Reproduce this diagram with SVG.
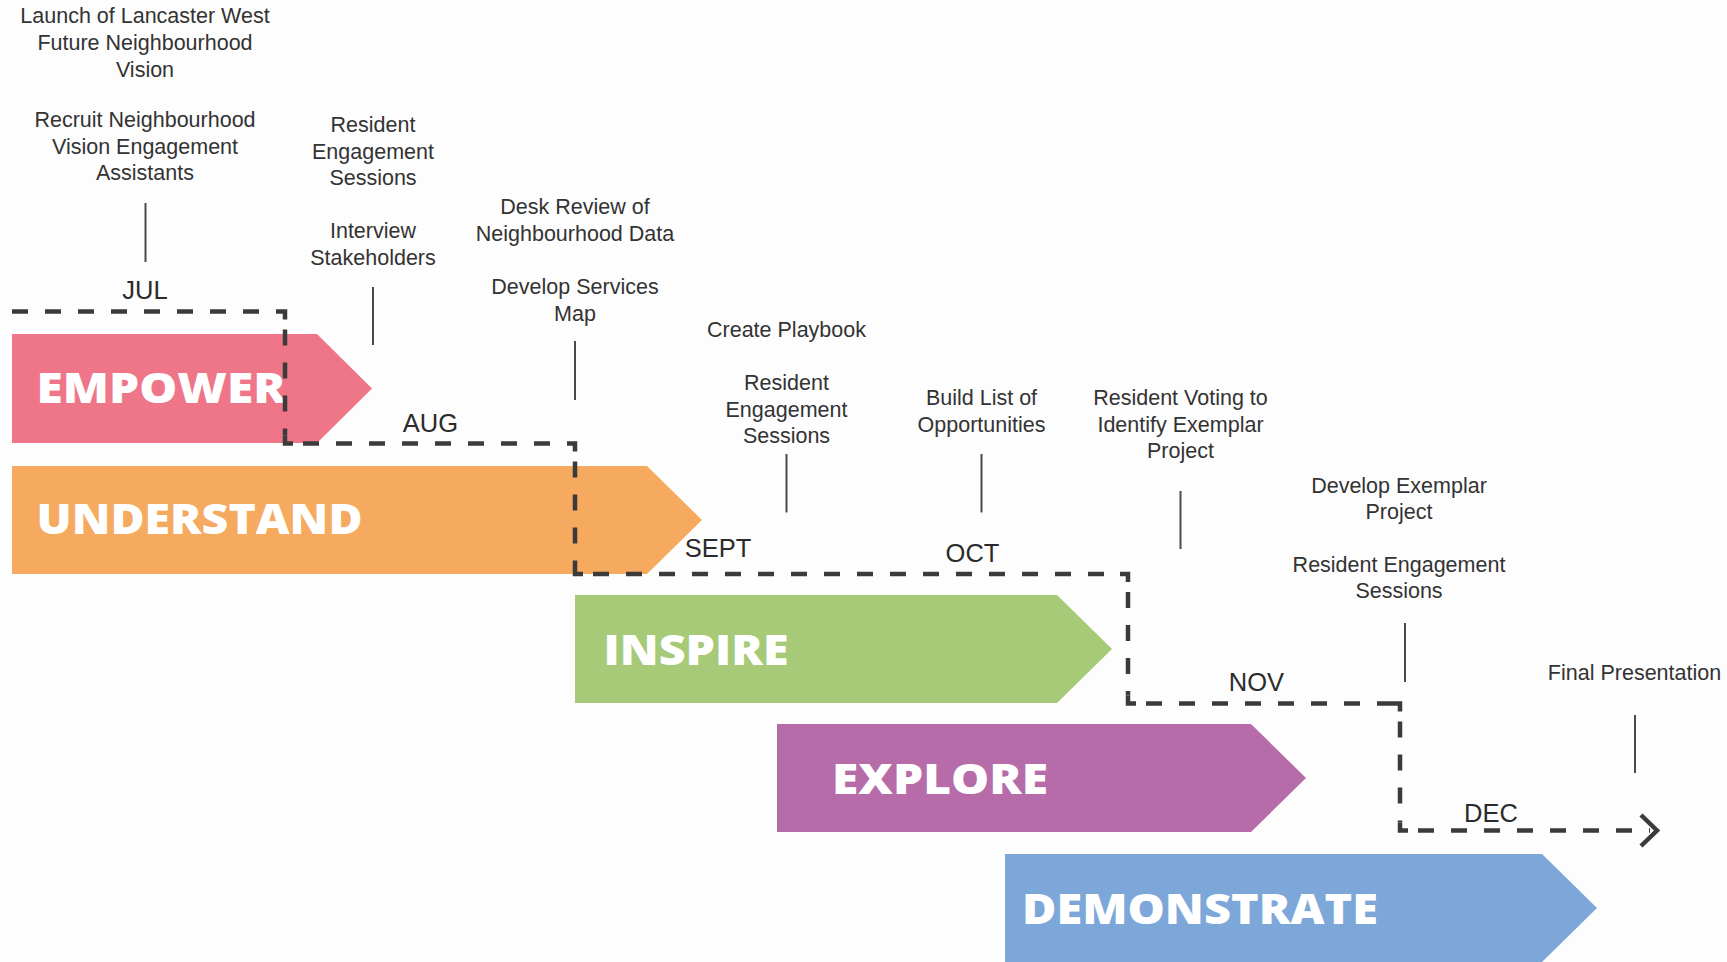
<svg xmlns="http://www.w3.org/2000/svg" width="1727" height="962" viewBox="0 0 1727 962">
<style>
.bg{fill:#fdfdfd}
.lbl{font-family:"Open Sans","DejaVu Sans",sans-serif;font-weight:800;font-size:42px;fill:#ffffff}
.it{font-family:"Liberation Sans",Arial,sans-serif;font-size:21.5px;fill:#333333;text-anchor:middle}
.mo{font-family:"Liberation Sans",Arial,sans-serif;font-size:25.5px;fill:#2b2b2b;text-anchor:middle}
.tick{stroke:#4a4a4a;stroke-width:2;fill:none}
.dash{stroke:#3b3b3b;stroke-width:4.5;fill:none;stroke-dasharray:16 17;stroke-dashoffset:23}
.corner{stroke:#3b3b3b;stroke-width:4.5;fill:none}
</style>
<rect class="bg" x="0" y="0" width="1727" height="962"/>

<g id="empower">
<polygon points="12,334 317,334 372,388.5 317,443 12,443" fill="#ee7688"/>
<text class="lbl" x="36.5" y="403" textLength="249" lengthAdjust="spacingAndGlyphs">EMPOWER</text>
</g>
<g id="understand">
<polygon points="12,466 647,466 702,520 647,574 12,574" fill="#f5aa5f"/>
<text class="lbl" x="36.5" y="534" textLength="326" lengthAdjust="spacingAndGlyphs">UNDERSTAND</text>
</g>
<g id="inspire">
<polygon points="575,595 1057,595 1112,649 1057,703 575,703" fill="#a6ca77"/>
<text class="lbl" x="603.5" y="665" textLength="185" lengthAdjust="spacingAndGlyphs">INSPIRE</text>
</g>
<g id="explore">
<polygon points="777,724 1251,724 1306,778 1251,832 777,832" fill="#b56ca9"/>
<text class="lbl" x="832" y="794" textLength="216" lengthAdjust="spacingAndGlyphs">EXPLORE</text>
</g>
<g id="demonstrate">
<polygon points="1005,854 1542,854 1597,908 1542,962 1005,962" fill="#7ca7d8"/>
<text class="lbl" x="1022" y="924" textLength="356" lengthAdjust="spacingAndGlyphs">DEMONSTRATE</text>
</g>

<g id="connectors">
<g id="timeline">
<line class="dash" x1="12" y1="311.5" x2="277" y2="311.5" style="stroke-dashoffset:0"/>
<polyline class="corner" points="277,311.5 285,311.5 285,319.5"/>
<line class="dash" x1="285" y1="319.5" x2="285" y2="435.5"/>
<polyline class="corner" points="285,435.5 285,443.5 293,443.5"/>
<line class="dash" x1="293" y1="443.5" x2="567" y2="443.5"/>
<polyline class="corner" points="567,443.5 575,443.5 575,451.5"/>
<line class="dash" x1="575" y1="451.5" x2="575" y2="566"/>
<polyline class="corner" points="575,566 575,574 583,574"/>
<line class="dash" x1="583" y1="574" x2="1120" y2="574"/>
<polyline class="corner" points="1120,574 1128,574 1128,582"/>
<line class="dash" x1="1128" y1="582" x2="1128" y2="695.5"/>
<polyline class="corner" points="1128,695.5 1128,703.5 1136,703.5"/>
<line class="dash" x1="1136" y1="703.5" x2="1392" y2="703.5"/>
<polyline class="corner" points="1392,703.5 1400,703.5 1400,711.5"/>
<line class="dash" x1="1400" y1="711.5" x2="1400" y2="822.5"/>
<polyline class="corner" points="1400,822.5 1400,830.5 1408,830.5"/>
<line class="dash" x1="1408" y1="830.5" x2="1650" y2="830.5"/>
<polyline class="corner" points="1641,815 1657,830.5 1641,846"/>
</g>
<line class="tick" x1="145.5" y1="203" x2="145.5" y2="262"/>
<line class="tick" x1="373" y1="287" x2="373" y2="345"/>
<line class="tick" x1="575" y1="341" x2="575" y2="400"/>
<line class="tick" x1="786.5" y1="454" x2="786.5" y2="512.5"/>
<line class="tick" x1="981.5" y1="454" x2="981.5" y2="512.5"/>
<line class="tick" x1="1180.5" y1="491" x2="1180.5" y2="549"/>
<line class="tick" x1="1405" y1="623" x2="1405" y2="682"/>
<line class="tick" x1="1635" y1="715" x2="1635" y2="773"/>
</g>

<g id="months">
<text class="mo" x="145" y="298.5">JUL</text>
<text class="mo" x="430.5" y="431.5">AUG</text>
<text class="mo" x="718" y="557">SEPT</text>
<text class="mo" x="972.5" y="561.5">OCT</text>
<text class="mo" x="1256.5" y="691">NOV</text>
<text class="mo" x="1491" y="821.5">DEC</text>
</g>

<g id="m-jul">
<text class="it" x="145" y="23">Launch of Lancaster West</text>
<text class="it" x="145" y="50">Future Neighbourhood</text>
<text class="it" x="145" y="76.5">Vision</text>
<text class="it" x="145" y="127">Recruit Neighbourhood</text>
<text class="it" x="145" y="153.5">Vision Engagement</text>
<text class="it" x="145" y="180">Assistants</text>
</g>
<g id="m-jul2">
<text class="it" x="373" y="132">Resident</text>
<text class="it" x="373" y="158.5">Engagement</text>
<text class="it" x="373" y="185">Sessions</text>
<text class="it" x="373" y="238">Interview</text>
<text class="it" x="373" y="264.5">Stakeholders</text>
</g>
<g id="m-aug">
<text class="it" x="575" y="214">Desk Review of</text>
<text class="it" x="575" y="240.5">Neighbourhood Data</text>
<text class="it" x="575" y="294">Develop Services</text>
<text class="it" x="575" y="320.5">Map</text>
</g>
<g id="m-sept">
<text class="it" x="786.5" y="337">Create Playbook</text>
<text class="it" x="786.5" y="390">Resident</text>
<text class="it" x="786.5" y="416.5">Engagement</text>
<text class="it" x="786.5" y="443">Sessions</text>
</g>
<g id="m-oct">
<text class="it" x="981.5" y="405">Build List of</text>
<text class="it" x="981.5" y="431.5">Opportunities</text>
</g>
<g id="m-oct2">
<text class="it" x="1180.5" y="405">Resident Voting to</text>
<text class="it" x="1180.5" y="431.5">Identify Exemplar</text>
<text class="it" x="1180.5" y="458">Project</text>
</g>
<g id="m-nov">
<text class="it" x="1399" y="492.5">Develop Exemplar</text>
<text class="it" x="1399" y="519">Project</text>
<text class="it" x="1399" y="571.5">Resident Engagement</text>
<text class="it" x="1399" y="598">Sessions</text>
</g>
<g id="m-dec">
<text class="it" x="1634.5" y="679.5">Final Presentation</text>
</g>
</svg>
